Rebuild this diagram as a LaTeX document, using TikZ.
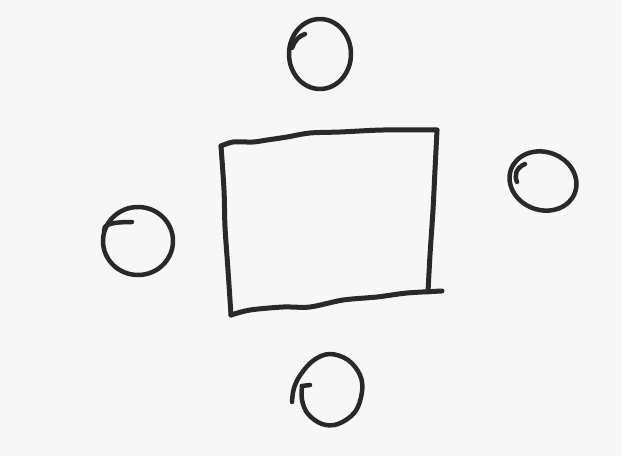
\documentclass[tikz,border=0pt]{standalone}
\begin{document}
\begin{tikzpicture}[x=1pt,y=-1pt,
  ink/.style={draw=black!84, line width=5pt, line cap=round, line join=round},
  thinink/.style={ink, line width=4.5pt}]
\fill[black!3] (0,0) rectangle (622,456);
\useasboundingbox (0,0) rectangle (622,456);
% central rectangle, drawn freehand
\coordinate (tl) at (221,146);
\coordinate (tr) at (437,130);
\coordinate (br) at (428,292);
\coordinate (bl) at (231,315);
\coordinate (bre) at (442,291);
\draw[ink] plot[smooth, tension=0.5] coordinates {(tl) (233,142) (253,142) (267,140) (287,137) (310,133) (340,132) (383,130) (tr)};
\draw[ink] plot[smooth, tension=0.5] coordinates {(tr) (435,170) (433,210) (430,255) (br)};
\draw[ink] plot[smooth, tension=0.5] coordinates {(bl) (250,310) (283,307) (310,307) (343,300) (377,297) (407,293) (bre)};
\draw[ink] plot[smooth, tension=0.5] coordinates {(tl) (224,190) (225,227) (228,270) (bl)};
% top circle
\draw[thinink] (320,54) ellipse [x radius=31, y radius=35];
\draw[thinink] (292,48) .. controls (295,40) and (299,36) .. (305,34);
% right circle
\draw[thinink, rotate around={-20:(543,181)}] (543,181) ellipse [x radius=34, y radius=29];
\draw[thinink] (517,182) .. controls (514,175) and (516,168) .. (525,164);
% left circle
\draw[thinink] (138,241) ellipse [x radius=35, y radius=34];
\draw[thinink] (104,231) .. controls (103,225) and (110,222) .. (132,222);
% bottom circle (open, with a hook)
\draw[thinink] plot[smooth, tension=0.6] coordinates {(292,402) (294,388) (301,374) (314,360) (330,354) (348,360) (360,375) (362,392) (355,412) (338,424) (322,424) (308,414) (302,400) (302,386)};
\draw[thinink] (302,386) -- (310,385);
\end{tikzpicture}
\end{document}
